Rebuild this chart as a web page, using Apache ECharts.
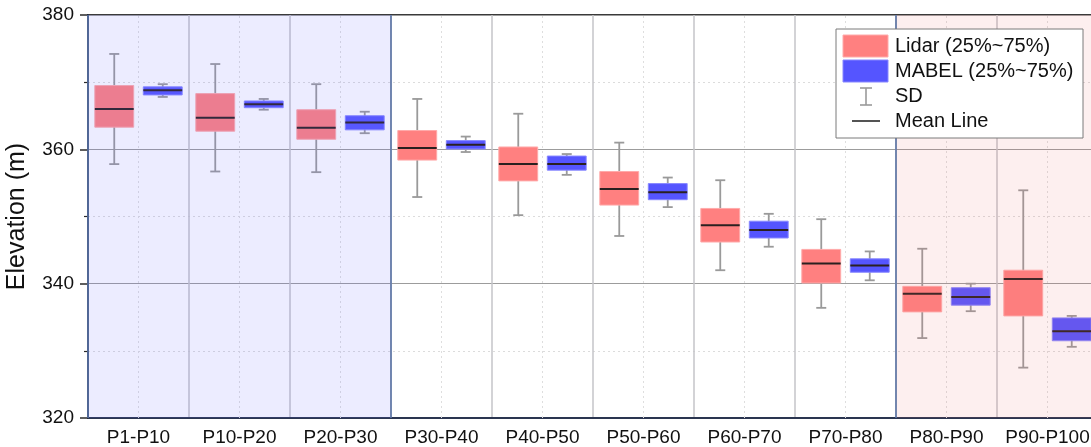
<!DOCTYPE html>
<html><head><meta charset="utf-8">
<script src="https://cdn.jsdelivr.net/npm/echarts@6/dist/echarts.min.js"></script>
<style>html,body{margin:0;padding:0;background:#fff}#c{width:1091px;height:447px}</style>
</head><body><div id="c"></div>
<script>
const categories = ['P1-P10','P10-P20','P20-P30','P30-P40','P40-P50','P50-P60','P60-P70','P70-P80','P80-P90','P90-P100'];
const yTicks = [320, 340, 360, 380];

// Lidar: SD low, 25%, mean, 75%, SD high
const lidarSdLow  = [357.8, 356.7, 356.6, 352.9, 350.2, 347.1, 342.0, 336.4, 331.9, 327.5];
const lidarQ1     = [363.3, 362.7, 361.5, 358.4, 355.3, 351.7, 346.2, 340.1, 335.8, 335.2];
const lidarMean   = [366.0, 364.7, 363.2, 360.2, 357.8, 354.1, 348.7, 343.0, 338.5, 340.7];
const lidarQ3     = [369.5, 368.3, 365.9, 362.8, 360.35, 356.7, 351.2, 345.1, 339.6, 342.0];
const lidarSdHigh = [374.2, 372.7, 369.7, 367.5, 365.3, 361.0, 355.4, 349.6, 345.2, 353.9];

// MABEL: SD low, 25%, mean, 75%, SD high
const mabelSdLow  = [367.8, 365.9, 362.4, 359.6, 356.2, 351.4, 345.5, 340.5, 335.9, 330.6];
const mabelQ1     = [368.1, 366.2, 362.9, 360.05, 356.9, 352.5, 346.8, 341.7, 336.8, 331.5];
const mabelMean   = [368.8, 366.7, 364.0, 360.7, 357.8, 353.6, 348.0, 342.7, 338.0, 332.9];
const mabelQ3     = [369.3, 367.2, 365.0, 361.3, 359.0, 354.9, 349.3, 343.7, 339.4, 334.9];
const mabelSdHigh = [369.7, 367.5, 365.6, 361.9, 359.3, 355.8, 350.4, 344.8, 340.0, 335.2];

// shaded category ranges [first, last]
const bandRanges = [[0, 2], [8, 9]];

const FONT = '"Liberation Sans", Arial, sans-serif';

function buildData(lo, q1, mean, q3, hi) {
  return categories.map((c, i) => [i, lo[i], q1[i], mean[i], q3[i], hi[i]]);
}

function boxRenderer(offsetFrac, fill, stroke) {
  return function (params, api) {
    const idx = api.value(0);
    const bw = api.size([1, 0])[0];
    const cx = api.coord([idx, 0])[0] + offsetFrac * bw;
    const w = bw * 0.385;
    const yLo = api.coord([idx, api.value(1)])[1];
    const yQ1 = api.coord([idx, api.value(2)])[1];
    const yM = api.coord([idx, api.value(3)])[1];
    const yQ3 = api.coord([idx, api.value(4)])[1];
    const yHi = api.coord([idx, api.value(5)])[1];
    const cap = 5;
    const wStyle = { stroke: '#9a9a9a', lineWidth: 1.8 };
    return {
      type: 'group',
      children: [
        { type: 'line', shape: { x1: cx, y1: yLo, x2: cx, y2: yHi }, style: wStyle },
        { type: 'line', shape: { x1: cx - cap, y1: yLo, x2: cx + cap, y2: yLo }, style: wStyle },
        { type: 'line', shape: { x1: cx - cap, y1: yHi, x2: cx + cap, y2: yHi }, style: wStyle },
        { type: 'rect', shape: { x: cx - w / 2, y: yQ3, width: w, height: yQ1 - yQ3 },
          style: { fill: fill, stroke: stroke, lineWidth: 1 } },
        { type: 'line', shape: { x1: cx - w / 2, y1: yM, x2: cx + w / 2, y2: yM },
          style: { stroke: '#2a2020', lineWidth: 2 } }
      ]
    };
  };
}

const chart = echarts.init(document.getElementById('c'), null, { renderer: 'canvas' });

const option = {
  backgroundColor: '#ffffff',
  animation: false,
  grid: {
    left: 88, top: 15, width: 1010, height: 403,
    show: true, borderColor: '#3a3a3a', borderWidth: 2, backgroundColor: 'transparent',
    containLabel: false, outerBoundsMode: 'none'
  },
  xAxis: {
    type: 'category',
    data: categories,
    boundaryGap: true,
    axisLine: { show: true, lineStyle: { color: '#2a3550', width: 2 } },
    axisTick: { show: false, interval: 0 },
    axisLabel: { interval: 0, margin: 10, fontSize: 19, fontFamily: FONT, color: '#111' },
    splitLine: { show: true, interval: 0, lineStyle: { color: '#c4c4c8', width: 1.5 } }
  },
  yAxis: {
    type: 'value',
    min: 320, max: 380, interval: 20,
    name: 'Elevation (m)',
    nameLocation: 'middle',
    nameGap: 58,
    nameTextStyle: { fontSize: 25, fontFamily: FONT, color: '#111' },
    axisLine: { show: true, lineStyle: { color: '#2a3550', width: 2 } },
    axisTick: { show: true, inside: false, length: 8, lineStyle: { color: '#2a2a2a', width: 1.5 } },
    minorTick: { show: true, splitNumber: 2, length: 4, lineStyle: { color: '#2a2a2a', width: 1.2 } },
    axisLabel: {
      margin: 14, fontSize: 19, fontFamily: FONT, color: '#111',
      formatter: v => (yTicks.indexOf(v) >= 0 ? String(v) : '')
    },
    splitLine: { show: true, lineStyle: { color: '#9c9c9c', width: 1 } },
    minorSplitLine: { show: true, lineStyle: { color: '#dcdcdc', width: 1, type: [2, 3] } }
  },
  series: [
    {
      name: 'centers',
      type: 'custom',
      z: 1,
      silent: true,
      data: categories.map((c, i) => [i]),
      encode: { x: 0 },
      renderItem: function (params, api) {
        const idx = api.value(0);
        const x = api.coord([idx, 320])[0];
        const y0 = api.coord([idx, 320])[1];
        const y1 = api.coord([idx, 380])[1];
        return { type: 'line', shape: { x1: x, y1: y0, x2: x, y2: y1 },
          style: { stroke: '#dedede', lineWidth: 1, lineDash: [2, 3] } };
      }
    },
    {
      name: 'Lidar (25%~75%)',
      type: 'custom',
      z: 3,
      data: buildData(lidarSdLow, lidarQ1, lidarMean, lidarQ3, lidarSdHigh),
      encode: { x: 0, y: [1, 2, 3, 4, 5] },
      renderItem: boxRenderer(-0.24, '#ff8080', '#ffaaaa')
    },
    {
      name: 'MABEL (25%~75%)',
      type: 'custom',
      z: 3,
      data: buildData(mabelSdLow, mabelQ1, mabelMean, mabelQ3, mabelSdHigh),
      encode: { x: 0, y: [1, 2, 3, 4, 5] },
      renderItem: boxRenderer(0.24, '#5555ff', '#8888ff')
    },
    {
      name: 'bands',
      type: 'custom',
      z: 6,
      silent: true,
      data: bandRanges.map((r, k) => [r[0], r[1], k]),
      encode: { x: [0, 1] },
      renderItem: function (params, api) {
        const a = api.value(0), b = api.value(1), k = api.value(2);
        const bw = api.size([1, 0])[0];
        const xa = api.coord([a, 380])[0] - bw / 2;
        const xb = api.coord([b, 380])[0] + bw / 2;
        const yt = api.coord([a, 380])[1];
        const yb = api.coord([a, 320])[1];
        const fill = k === 0 ? 'rgba(110,110,255,0.13)' : 'rgba(235,110,110,0.11)';
        const edge = { stroke: '#5a74a6', lineWidth: 1.6 };
        return {
          type: 'group',
          children: [
            { type: 'rect', shape: { x: xa, y: yt, width: xb - xa, height: yb - yt }, style: { fill: fill } },
            { type: 'line', shape: { x1: xa, y1: yt, x2: xa, y2: yb }, style: edge },
            { type: 'line', shape: { x1: xb, y1: yt, x2: xb, y2: yb }, style: edge }
          ]
        };
      }
    }
  ],
  graphic: [
    { type: 'rect', z: 100, shape: { x: 836, y: 29, width: 247, height: 109 },
      style: { fill: '#ffffff', stroke: '#7a7a7a', lineWidth: 1 } },
    { type: 'rect', z: 101, shape: { x: 843, y: 35, width: 45, height: 22 },
      style: { fill: '#ff8080', stroke: '#ffaaaa', lineWidth: 1 } },
    { type: 'rect', z: 101, shape: { x: 843, y: 60, width: 45, height: 22 },
      style: { fill: '#5555ff', stroke: '#8888ff', lineWidth: 1 } },
    { type: 'line', z: 101, shape: { x1: 866, y1: 88, x2: 866, y2: 105 }, style: { stroke: '#9a9a9a', lineWidth: 1.6 } },
    { type: 'line', z: 101, shape: { x1: 860, y1: 88, x2: 872, y2: 88 }, style: { stroke: '#9a9a9a', lineWidth: 1.6 } },
    { type: 'line', z: 101, shape: { x1: 860, y1: 105, x2: 872, y2: 105 }, style: { stroke: '#9a9a9a', lineWidth: 1.6 } },
    { type: 'line', z: 101, shape: { x1: 852, y1: 121, x2: 880, y2: 121 }, style: { stroke: '#2a2a2a', lineWidth: 1.6 } },
    { type: 'text', z: 101, style: { x: 895, y: 46, text: 'Lidar (25%~75%)', font: '20px ' + FONT, fill: '#111', textVerticalAlign: 'middle', verticalAlign: 'middle' } },
    { type: 'text', z: 101, style: { x: 895, y: 71, text: 'MABEL (25%~75%)', font: '20px ' + FONT, fill: '#111', textVerticalAlign: 'middle', verticalAlign: 'middle' } },
    { type: 'text', z: 101, style: { x: 895, y: 96, text: 'SD', font: '20px ' + FONT, fill: '#111', textVerticalAlign: 'middle', verticalAlign: 'middle' } },
    { type: 'text', z: 101, style: { x: 895, y: 121, text: 'Mean Line', font: '20px ' + FONT, fill: '#111', textVerticalAlign: 'middle', verticalAlign: 'middle' } }
  ]
};
chart.setOption(option);
</script>
</body></html>
